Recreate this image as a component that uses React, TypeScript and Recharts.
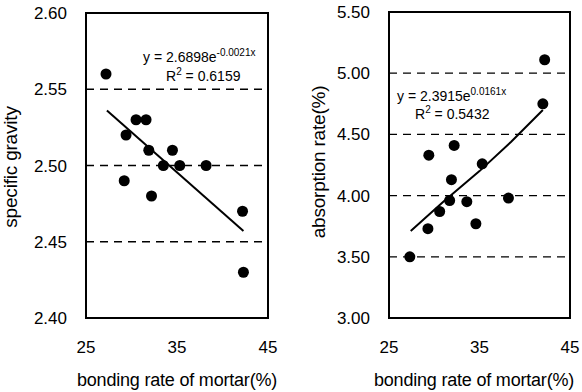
import { ScatterChart, Scatter, XAxis, YAxis, CartesianGrid, ReferenceArea, Customized } from 'recharts';

// bonding rate of mortar (%) vs specific gravity
const sgBond = [27.2, 29.4, 30.5, 31.6, 31.9, 29.2, 32.2, 33.5, 34.5, 35.3, 38.2, 42.2, 42.3];
const sgValue = [2.56, 2.52, 2.53, 2.53, 2.51, 2.49, 2.48, 2.5, 2.51, 2.5, 2.5, 2.47, 2.43];
const sgFitBond = [27.3, 42.3];
const sgFitValue = [2.536, 2.457];
const sgTicks = [2.4, 2.45, 2.5, 2.55, 2.6];

// bonding rate of mortar (%) vs absorption rate (%)
const abBond = [27.3, 29.3, 29.4, 30.6, 31.7, 31.9, 32.2, 33.6, 34.6, 35.3, 38.2, 42.0, 42.2];
const abValue = [3.5, 3.73, 4.33, 3.87, 3.96, 4.13, 4.41, 3.95, 3.77, 4.26, 3.98, 4.75, 5.11];
const abFitBond = [27.4, 31, 35, 38.5, 42.0];
const abFitValue = [3.71, 3.95, 4.2, 4.44, 4.7];
const abTicks = [3.0, 3.5, 4.0, 4.5, 5.0, 5.5];

const xTicks = [25, 35, 45];

const FONT = '"Liberation Sans", Arial, sans-serif';

const zip = (xs: number[], ys: number[]) => xs.map((x, i) => ({ x, y: ys[i] }));

const Dot = (props: any) => <circle cx={props.cx} cy={props.cy} r={5.5} fill="#000" />;
const NoDot = () => <g />;

type Note = {
  x: number;
  y: number;
  text: string;
  sup?: string;
  after?: string;
  size?: number;
  rotate?: boolean;
  middle?: boolean;
};

const Notes = ({ notes }: { notes: Note[] }) => (
  <g fontFamily={FONT} fill="#000">
    {notes.map((n, i) => (
      <text
        key={i}
        x={n.x}
        y={n.y}
        fontSize={n.size ?? 14}
        textAnchor={n.middle ? 'middle' : 'start'}
        letterSpacing={n.size ? -0.2 : 0}
        transform={n.rotate ? `rotate(-90 ${n.x} ${n.y})` : undefined}
      >
        {n.text}
        {n.sup && (
          <tspan fontSize={10} dy={-6}>
            {n.sup}
          </tspan>
        )}
        {n.after && <tspan dy={n.sup ? 6 : 0}>{n.after}</tspan>}
      </text>
    ))}
  </g>
);

type PanelProps = {
  points: { x: number; y: number }[];
  fit: { x: number; y: number }[];
  yDomain: [number, number];
  yTicks: number[];
  yAxisWidth: number;
  top: number;
  right: number;
  notes: Note[];
};

function Panel({ points, fit, yDomain, yTicks, yAxisWidth, top, right, notes }: PanelProps) {
  return (
    <ScatterChart width={291} height={392} margin={{ top, right, bottom: 0, left: 0 }}>
      <CartesianGrid vertical={false} stroke="#000" strokeWidth={1.3} strokeDasharray="8 6" />
      <XAxis
        type="number"
        dataKey="x"
        domain={[25, 45]}
        ticks={xTicks}
        axisLine={false}
        tickLine={false}
        tickMargin={17}
        height={74}
        tick={{ fill: '#000', fontSize: 17, fontFamily: FONT }}
      />
      <YAxis
        type="number"
        dataKey="y"
        domain={yDomain}
        ticks={yTicks}
        axisLine={false}
        tickLine={false}
        tickMargin={13}
        width={yAxisWidth}
        tickFormatter={(v: number) => v.toFixed(2)}
        tick={{ fill: '#000', fontSize: 17, fontFamily: FONT }}
      />
      <ReferenceArea
        x1={25}
        x2={45}
        y1={yDomain[0]}
        y2={yDomain[1]}
        fill="none"
        stroke="#000"
        strokeWidth={2}
        fillOpacity={0}
      />
      <Scatter data={fit} shape={NoDot} line={{ stroke: '#000', strokeWidth: 2 }} isAnimationActive={false} />
      <Scatter data={points} shape={Dot} fill="#000" isAnimationActive={false} />
      <Customized component={<Notes notes={notes} />} />
    </ScatterChart>
  );
}

export default function App() {
  return (
    <div style={{ position: 'absolute', left: 0, top: 0, width: 582, height: 392, display: 'flex', background: '#fff' }}>
      <Panel
        points={zip(sgBond, sgValue)}
        fit={zip(sgFitBond, sgFitValue)}
        yDomain={[2.4, 2.6]}
        yTicks={sgTicks}
        yAxisWidth={86}
        top={13}
        right={23}
        notes={[
          { x: 143, y: 62, text: 'y = 2.6898e', sup: '-0.0021x' },
          { x: 166, y: 81, text: 'R', sup: '2', after: ' = 0.6159' },
          { x: 17, y: 167, text: 'specific gravity', size: 19, rotate: true, middle: true },
          { x: 177, y: 386, text: 'bonding rate of mortar(%)', size: 18, middle: true },
        ]}
      />
      <Panel
        points={zip(abBond, abValue)}
        fit={zip(abFitBond, abFitValue)}
        yDomain={[3.0, 5.5]}
        yTicks={abTicks}
        yAxisWidth={98}
        top={12}
        right={12}
        notes={[
          { x: 106, y: 101, text: 'y = 2.3915e', sup: '0.0161x' },
          { x: 124, y: 119, text: 'R', sup: '2', after: ' = 0.5432' },
          { x: 34, y: 162, text: 'absorption rate(%)', size: 19, rotate: true, middle: true },
          { x: 183, y: 386, text: 'bonding rate of mortar(%)', size: 18, middle: true },
        ]}
      />
    </div>
  );
}
